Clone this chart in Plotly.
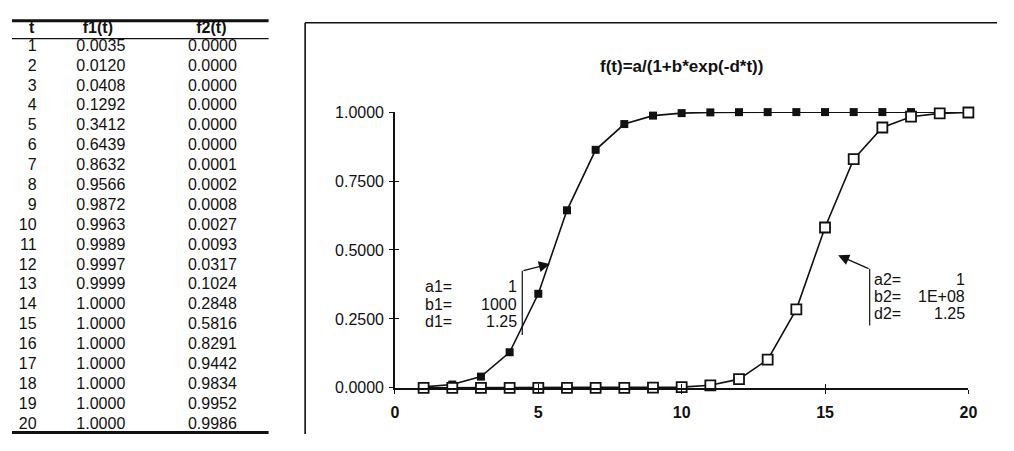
import plotly.graph_objects as go

# ---------------- data ----------------
t_values = list(range(1, 21))
f1_values = [0.0035, 0.0120, 0.0408, 0.1292, 0.3412, 0.6439, 0.8632, 0.9566, 0.9872, 0.9963,
             0.9989, 0.9997, 0.9999, 1.0000, 1.0000, 1.0000, 1.0000, 1.0000, 1.0000, 1.0000]
f2_values = [0.0000, 0.0000, 0.0000, 0.0000, 0.0000, 0.0000, 0.0001, 0.0002, 0.0008, 0.0027,
             0.0093, 0.0317, 0.1024, 0.2848, 0.5816, 0.8291, 0.9442, 0.9834, 0.9952, 0.9986]
table_headers = ["t", "f1(t)", "f2(t)"]
params1_labels = ["a1=", "b1=", "d1="]
params1_values = ["1", "1000", "1.25"]
params2_labels = ["a2=", "b2=", "d2="]
params2_values = ["1", "1E+08", "1.25"]
title_text = "f(t)=a/(1+b*exp(-d*t))"
y_ticks = [0, 0.25, 0.5, 0.75, 1.0]
x_ticks = [0, 5, 10, 15, 20]

# page is 1014x451; the default 8px body margin surrounds the figure
OFF = 8
W, H = 1014 - 2 * OFF, 451 - 2 * OFF
FONT = "Liberation Sans, Arial, sans-serif"
INK = "#111111"


def X(px):
    return min(max((px - OFF) / W, 0), 1)


def Y(py):
    return min(max(1 - (py - OFF) / H, 0), 1)


fig = go.Figure()

# ---------------- chart series ----------------
fig.add_trace(go.Scatter(
    x=t_values, y=f1_values, mode="lines+markers", name="f1",
    line=dict(color=INK, width=1.6),
    marker=dict(symbol="square", size=8, color=INK, line=dict(color=INK, width=0)),
    cliponaxis=False, xaxis="x", yaxis="y", showlegend=False))
fig.add_trace(go.Scatter(
    x=t_values, y=f2_values, mode="lines+markers", name="f2",
    line=dict(color=INK, width=1.6),
    marker=dict(symbol="square", size=10, color="white", line=dict(color=INK, width=1.8)),
    cliponaxis=False, xaxis="x", yaxis="y", showlegend=False))
# invisible trace for the overlay (inside-tick) axes
fig.add_trace(go.Scatter(x=[0], y=[0], mode="markers", marker=dict(opacity=0),
                         xaxis="x3", yaxis="y3", showlegend=False, hoverinfo="skip"))

# ---------------- table (text through its own axes) ----------------
fmt = lambda v: f"{v:.4f}"
col_t, col_f1, col_f2 = 33, 98, 211
TFONT = dict(family=FONT, size=16, color=INK)
fig.add_trace(go.Scatter(
    x=[col_t] * len(t_values), y=t_values, text=[str(v) for v in t_values],
    mode="text", textposition="middle left", textfont=TFONT,
    xaxis="x2", yaxis="y2", showlegend=False, hoverinfo="skip"))
fig.add_trace(go.Scatter(
    x=[col_f1] * len(t_values), y=t_values, text=[fmt(v) for v in f1_values],
    mode="text", textposition="middle center", textfont=TFONT,
    xaxis="x2", yaxis="y2", showlegend=False, hoverinfo="skip"))
fig.add_trace(go.Scatter(
    x=[col_f2] * len(t_values), y=t_values, text=[fmt(v) for v in f2_values],
    mode="text", textposition="middle center", textfont=TFONT,
    xaxis="x2", yaxis="y2", showlegend=False, hoverinfo="skip"))

# table y range: row t sits at screen pixel 40 + (t-1)*ROWH
ROW0, ROWH = 40, 20.7
header_y = 1 + (22 - ROW0) / ROWH
ty_top = 1 + (OFF - ROW0) / ROWH
ty_bot = 1 + (OFF + H - ROW0) / ROWH
fig.add_trace(go.Scatter(
    x=[28, 95, 210], y=[header_y] * 3, text=[f"<b>{h}</b>" for h in table_headers],
    mode="text", textposition="middle center", textfont=TFONT,
    xaxis="x2", yaxis="y2", showlegend=False, hoverinfo="skip"))

shapes = []
# table rules
shapes.append(dict(type="line", xref="paper", yref="paper", x0=X(8), x1=X(268), y0=Y(13), y1=Y(13),
                   line=dict(color=INK, width=3)))
shapes.append(dict(type="line", xref="paper", yref="paper", x0=X(8), x1=X(268), y0=Y(31.5), y1=Y(31.5),
                   line=dict(color=INK, width=1.3)))
shapes.append(dict(type="line", xref="paper", yref="paper", x0=X(8), x1=X(268), y0=Y(441.5), y1=Y(441.5),
                   line=dict(color=INK, width=3)))
# chart frame (left and top edges)
shapes.append(dict(type="line", xref="paper", yref="paper", x0=X(305), x1=X(305), y0=Y(15), y1=Y(451),
                   line=dict(color=INK, width=1.6)))
shapes.append(dict(type="line", xref="paper", yref="paper", x0=X(305), x1=X(1014), y0=Y(15), y1=Y(15),
                   line=dict(color=INK, width=1.6)))
# parameter block rules
shapes.append(dict(type="line", xref="paper", yref="paper", x0=X(525), x1=X(525), y0=Y(273), y1=Y(340),
                   line=dict(color=INK, width=1.2)))
shapes.append(dict(type="line", xref="paper", yref="paper", x0=X(877), x1=X(877), y0=Y(271), y1=Y(330),
                   line=dict(color=INK, width=1.2)))

annotations = []
annotations.append(dict(text=f"<b>{title_text}</b>", xref="paper", yref="paper", x=X(686), y=Y(61),
                        showarrow=False, xanchor="center", yanchor="middle",
                        font=dict(family=FONT, size=17, color=INK)))
AFONT = dict(family=FONT, size=16, color=INK)
for i, (lab, val) in enumerate(zip(params1_labels, params1_values)):
    yy = Y(290 + 18 * i)
    annotations.append(dict(text=lab, xref="paper", yref="paper", x=X(424), y=yy, showarrow=False,
                            xanchor="left", yanchor="middle", font=AFONT))
    annotations.append(dict(text=val, xref="paper", yref="paper", x=X(522), y=yy, showarrow=False,
                            xanchor="right", yanchor="middle", font=AFONT))
for i, (lab, val) in enumerate(zip(params2_labels, params2_values)):
    yy = Y(282 + 18 * i)
    annotations.append(dict(text=lab, xref="paper", yref="paper", x=X(879), y=yy, showarrow=False,
                            xanchor="left", yanchor="middle", font=AFONT))
    annotations.append(dict(text=val, xref="paper", yref="paper", x=X(976), y=yy, showarrow=False,
                            xanchor="right", yanchor="middle", font=AFONT))
# arrows
annotations.append(dict(text="", xref="paper", yref="paper", x=X(553), y=Y(266), ax=-28, ay=7,
                        showarrow=True, arrowhead=2, arrowsize=1.7, arrowwidth=1.3, arrowcolor=INK,
                        standoff=0))
annotations.append(dict(text="", xref="paper", yref="paper", x=X(845), y=Y(257), ax=32, ay=14,
                        showarrow=True, arrowhead=2, arrowsize=1.7, arrowwidth=1.3, arrowcolor=INK,
                        standoff=0))

dom_x = [X(396), X(977)]
dom_y = [Y(395), Y(108)]

fig.update_layout(
    width=W, height=H, autosize=False,
    margin=dict(l=0, r=0, t=0, b=0, pad=0),
    paper_bgcolor="white", plot_bgcolor="white",
    font=dict(family=FONT, color=INK),
    showlegend=False,
    xaxis=dict(domain=dom_x, range=[0, 20], tickvals=x_ticks,
               ticktext=[f"<b>{v}</b>" for v in x_ticks],
               ticks="outside", ticklen=4, tickwidth=1.3, tickcolor=INK,
               showline=True, linecolor=INK, linewidth=1.5, showgrid=False, zeroline=False,
               tickfont=dict(family=FONT, size=16, color=INK), ticklabelstandoff=5,
               anchor="y", fixedrange=True),
    yaxis=dict(domain=dom_y, range=[0, 1], tickvals=y_ticks, tickformat=".4f",
               ticks="outside", ticklen=4, tickwidth=1.3, tickcolor=INK,
               showline=True, linecolor=INK, linewidth=1.5, showgrid=False, zeroline=False,
               tickfont=dict(family=FONT, size=16, color=INK), ticklabelstandoff=2,
               anchor="x", fixedrange=True),
    xaxis3=dict(overlaying="x", range=[0, 20], tickvals=x_ticks, ticks="inside", ticklen=4,
                tickwidth=1.3, tickcolor=INK, showticklabels=False, showline=False,
                showgrid=False, zeroline=False, anchor="y3", fixedrange=True),
    yaxis3=dict(overlaying="y", range=[0, 1], tickvals=y_ticks, ticks="inside", ticklen=4,
                tickwidth=1.3, tickcolor=INK, showticklabels=False, showline=False,
                showgrid=False, zeroline=False, anchor="x3", fixedrange=True),
    xaxis2=dict(domain=[0, X(288)], range=[OFF, 288], visible=False, fixedrange=True, anchor="y2"),
    yaxis2=dict(domain=[0, 1], range=[ty_bot, ty_top], visible=False, fixedrange=True, anchor="x2"),
    shapes=shapes,
    annotations=annotations,
)

fig.write_html("out.html", config={"displayModeBar": False})
